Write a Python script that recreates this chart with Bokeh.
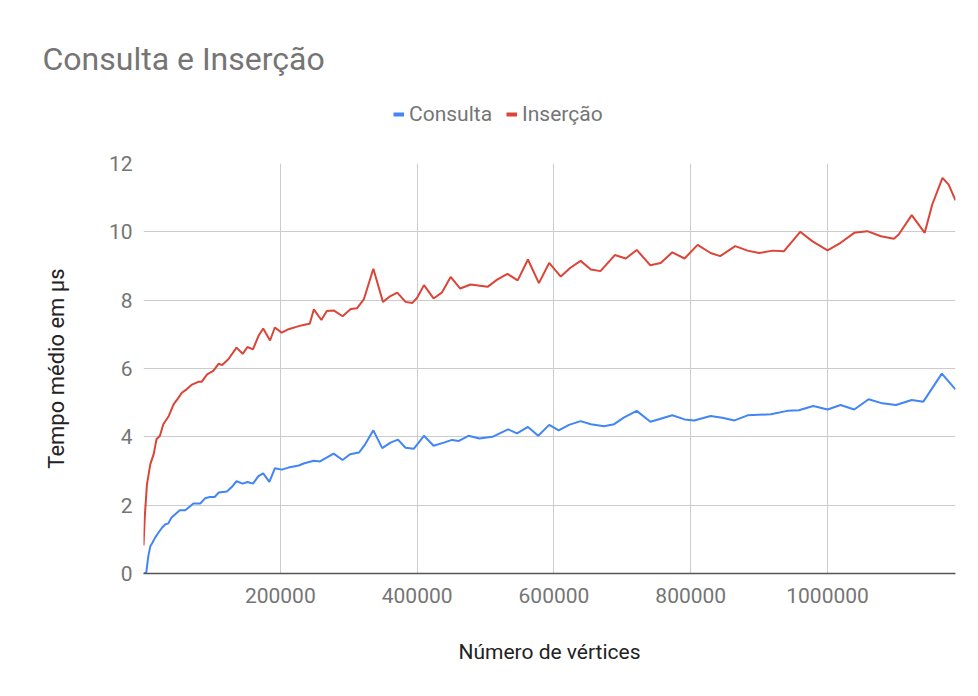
from bokeh.plotting import figure
from bokeh.models import (Range1d, FixedTicker, NumeralTickFormatter, Label,
                          Legend, LegendItem)
from bokeh.embed import file_html
from bokeh.resources import INLINE

# ---------------- data ----------------
x_consulta = [0, 4000, 7000, 10000, 13000, 17000, 22000, 27000, 32000, 36000,
              41000, 46000, 53000, 61000, 66000, 73000, 83000, 90000, 97000, 104000,
              110000, 122000, 129000, 136000, 145000, 152000, 160000, 168000, 175000, 184000,
              192000, 202000, 212000, 227000, 234000, 249000, 258000, 278000, 291000, 302000,
              315000, 324000, 336000, 349000, 361000, 372000, 383000, 395000, 410000, 424000,
              439000, 451000, 461000, 475000, 491000, 510000, 533000, 546000, 562000, 577000,
              593000, 607000, 622000, 639000, 654000, 673000, 688000, 702000, 721000, 741000,
              756000, 773000, 791000, 805000, 829000, 846000, 864000, 883000, 917000, 941000,
              958000, 979000, 1000000, 1019000, 1039000, 1060000, 1080000, 1100000, 1123000, 1140000,
              1167000, 1187000]
consulta = [0.0, 0.02, 0.5, 0.80, 0.90, 1.05, 1.20, 1.34, 1.44, 1.46,
            1.64, 1.73, 1.85, 1.85, 1.93, 2.05, 2.05, 2.20, 2.24, 2.24,
            2.37, 2.40, 2.53, 2.70, 2.63, 2.68, 2.63, 2.85, 2.93, 2.68,
            3.08, 3.04, 3.10, 3.16, 3.22, 3.30, 3.28, 3.51, 3.32, 3.49,
            3.54, 3.78, 4.19, 3.67, 3.83, 3.92, 3.68, 3.65, 4.03, 3.74,
            3.83, 3.91, 3.88, 4.03, 3.95, 4.00, 4.22, 4.10, 4.29, 4.03,
            4.35, 4.19, 4.35, 4.46, 4.37, 4.31, 4.37, 4.56, 4.76, 4.44,
            4.53, 4.63, 4.51, 4.48, 4.61, 4.56, 4.48, 4.63, 4.66, 4.76,
            4.78, 4.90, 4.80, 4.93, 4.80, 5.10, 4.98, 4.93, 5.08, 5.03,
            5.85, 5.39]

x_insercao = [0, 2000, 5000, 10000, 15000, 19000, 24000, 29000, 37000, 44000,
              51000, 56000, 63000, 71000, 80000, 85000, 93000, 102000, 110000, 115000,
              124000, 136000, 145000, 152000, 160000, 168000, 175000, 185000, 192000, 202000,
              212000, 227000, 237000, 243000, 249000, 260000, 268000, 278000, 291000, 303000,
              312000, 322000, 336000, 350000, 361000, 371000, 383000, 393000, 400000, 410000,
              424000, 436000, 449000, 463000, 478000, 503000, 517000, 532000, 547000, 562000,
              578000, 593000, 610000, 624000, 639000, 654000, 668000, 689000, 705000, 721000,
              741000, 756000, 773000, 791000, 810000, 829000, 843000, 865000, 883000, 900000,
              920000, 936000, 960000, 978000, 1000000, 1019000, 1039000, 1058000, 1078000, 1097000,
              1104000, 1123000, 1142000, 1153000, 1168000, 1177000, 1187000]
insercao = [0.82, 1.70, 2.60, 3.20, 3.50, 3.93, 4.03, 4.37, 4.61, 4.95,
            5.14, 5.29, 5.39, 5.53, 5.61, 5.61, 5.83, 5.93, 6.14, 6.10,
            6.27, 6.61, 6.43, 6.63, 6.56, 6.95, 7.17, 6.82, 7.20, 7.05,
            7.15, 7.24, 7.29, 7.31, 7.73, 7.42, 7.68, 7.70, 7.53, 7.74,
            7.76, 8.02, 8.92, 7.95, 8.12, 8.22, 7.95, 7.92, 8.07, 8.44,
            8.05, 8.22, 8.68, 8.34, 8.46, 8.39, 8.60, 8.77, 8.58, 9.19,
            8.50, 9.09, 8.69, 8.95, 9.15, 8.90, 8.85, 9.32, 9.22, 9.47,
            9.02, 9.09, 9.40, 9.22, 9.62, 9.38, 9.29, 9.58, 9.45, 9.38,
            9.45, 9.43, 10.00, 9.72, 9.46, 9.68, 9.97, 10.02, 9.87, 9.80,
            9.92, 10.49, 9.97, 10.80, 11.58, 11.38, 10.92]

x_ticks = [200000, 400000, 600000, 800000, 1000000]
y_ticks = [0, 2, 4, 6, 8, 10, 12]

title_text = "Consulta e Inserção"
x_title = "Número de vértices"
y_title = "Tempo médio em µs"
series_names = ["Consulta", "Inserção"]
series_colors = ["#4285F4", "#DB4437"]

FONT = "Roboto"
W = 978
TOP_H = 148
MAIN_H = 696 - TOP_H

# ---------------- header (separate root): title + legend ----------------
head = figure(width=W, height=TOP_H, output_backend="svg", toolbar_location=None,
              title=None, x_axis_type=None, y_axis_type=None,
              x_range=Range1d(-3, -2), y_range=Range1d(-3, -2),
              min_border=0, min_border_left=0, min_border_right=0,
              min_border_top=0, min_border_bottom=0)
head.outline_line_color = None
head.xgrid.visible = False
head.ygrid.visible = False

head.add_layout(Label(x=42, y=TOP_H - 58, x_units="screen", y_units="screen",
                      text=title_text, text_font=FONT, text_font_size="32px",
                      text_color="#757575", text_baseline="alphabetic"))

# legend swatches: hidden copies of the series (only their legend glyph shows)
sw0 = head.line(x_consulta, consulta, line_color=series_colors[0], line_width=4, visible=False)
sw1 = head.line(x_insercao, insercao, line_color=series_colors[1], line_width=4, visible=False)
legend = Legend(items=[LegendItem(label=series_names[0], renderers=[sw0]),
                       LegendItem(label=series_names[1], renderers=[sw1])],
                orientation="horizontal", location=(393, TOP_H - 126),
                glyph_width=11, glyph_height=24, label_height=24,
                label_standoff=5, spacing=14,
                padding=0, margin=0, border_line_color=None,
                background_fill_alpha=0,
                label_text_font=FONT, label_text_font_size="21px",
                label_text_color="#757575")
head.add_layout(legend, "center")

# ---------------- main chart ----------------
p = figure(width=W, height=MAIN_H, output_backend="svg", toolbar_location=None,
           title=None,
           x_range=Range1d(0, 1187000), y_range=Range1d(0, 12),
           min_border_left=143, min_border_right=23, min_border_top=15,
           min_border_bottom=123)
p.outline_line_color = None

p.xgrid.ticker = FixedTicker(ticks=x_ticks)
p.ygrid.ticker = FixedTicker(ticks=y_ticks)
for g in (p.xgrid, p.ygrid):
    g.grid_line_color = "#cccccc"
    g.grid_line_width = 1

xa = p.xaxis[0]
xa.ticker = FixedTicker(ticks=x_ticks)
xa.formatter = NumeralTickFormatter(format="0")
xa.major_tick_line_color = None
xa.minor_tick_line_color = None
xa.axis_line_color = "#555555"
xa.axis_line_width = 1.5
xa.major_label_text_font = FONT
xa.major_label_text_font_size = "21px"
xa.major_label_text_color = "#757575"
xa.major_label_standoff = 8
xa.axis_label = x_title
xa.axis_label_text_font = FONT
xa.axis_label_text_font_size = "21px"
xa.axis_label_text_font_style = "normal"
xa.axis_label_text_color = "#222222"
xa.axis_label_standoff = 34

ya = p.yaxis[0]
ya.ticker = FixedTicker(ticks=y_ticks)
ya.major_tick_line_color = None
ya.minor_tick_line_color = None
ya.axis_line_color = None
ya.major_label_text_font = FONT
ya.major_label_text_font_size = "21px"
ya.major_label_text_color = "#757575"
ya.major_label_standoff = 5
ya.axis_label = y_title
ya.axis_label_text_font = FONT
ya.axis_label_text_font_size = "22px"
ya.axis_label_text_font_style = "normal"
ya.axis_label_text_color = "#222222"
ya.axis_label_standoff = 37

p.line(x_consulta, consulta, line_color=series_colors[0], line_width=2)
p.line(x_insercao, insercao, line_color=series_colors[1], line_width=2)

open("out.html", "w").write(file_html([head, p], INLINE))
